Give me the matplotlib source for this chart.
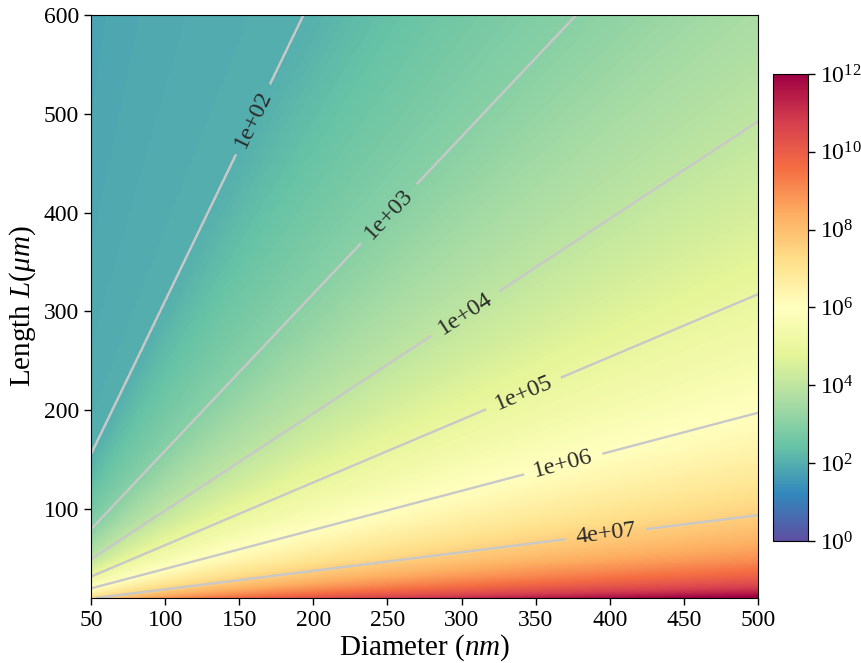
import numpy as np
import matplotlib
matplotlib.use('Agg')
import matplotlib.pyplot as plt
from matplotlib.colors import LogNorm

plt.rcParams['font.family'] = ['Liberation Serif', 'DejaVu Serif']
plt.rcParams['mathtext.fontset'] = 'custom'
plt.rcParams['mathtext.rm'] = 'Liberation Serif'
plt.rcParams['mathtext.it'] = 'Liberation Serif:italic'
plt.rcParams['mathtext.bf'] = 'Liberation Serif:bold'

# L/d ratio (um per nm) and log10 of the value there
ratio = [12.0, 3.1, 1.59, 0.985, 0.635, 0.395, 0.188, 0.02]
log_value = [1.8, 2.0, 3.0, 4.0, 5.0, 6.0, 7.6, 12.4]

levels = [1e2, 1e3, 1e4, 1e5, 1e6, 4e7]
d_lim = [50, 500]
L_lim = [10, 600]

d = np.linspace(d_lim[0], d_lim[1], 600)
L = np.linspace(L_lim[0], L_lim[1], 600)
D, LL = np.meshgrid(d, L)
xp = np.log10(ratio[::-1])
fp = np.array(log_value[::-1])
F = 10 ** np.interp(np.log10(LL / D), xp, fp)

fig = plt.figure(figsize=(8.62, 6.63), dpi=100)
ax = fig.add_axes([0.1056, 0.098, 0.7738, 0.8793])

mesh = ax.pcolormesh(D, LL, F, norm=LogNorm(1e0, 1e12), cmap='Spectral_r',
                     shading='nearest', rasterized=True)
cs = ax.contour(D, LL, F, levels=levels, colors='#c8c8c8', linewidths=1.7)
# label spots along each line
spots = [(158, 495), (250, 400), (300, 304), (342, 216), (368, 149), (397, 79)]
ax.clabel(cs, fmt='%.0e', fontsize=17.5, inline=True, inline_spacing=10,
          manual=spots, colors='#2a2a2a')

ax.set_xlim(d_lim)
ax.set_ylim(L_lim)
ax.set_xticks(np.arange(50, 501, 50))
ax.set_yticks(np.arange(100, 601, 100))
ax.tick_params(labelsize=17, length=5, width=1)
ax.set_xlabel(r'Diameter $(nm)$', fontsize=21, labelpad=1)
ax.set_ylabel(r'Length $L (\mu m)$', fontsize=21, labelpad=4)

cax = fig.add_axes([0.8968, 0.184, 0.0406, 0.7044])
cb = fig.colorbar(mesh, cax=cax, ticks=[1e0, 1e2, 1e4, 1e6, 1e8, 1e10, 1e12])
cb.ax.minorticks_off()
cb.ax.tick_params(labelsize=17, length=5, width=1)

fig.savefig('out.png', dpi=100)
